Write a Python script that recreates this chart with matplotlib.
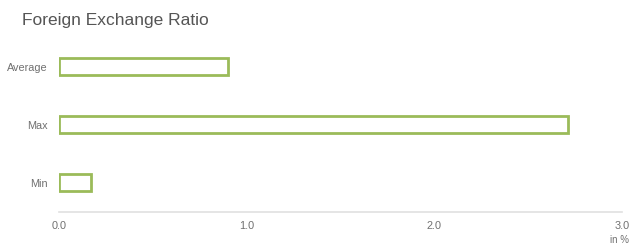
import matplotlib
matplotlib.use("Agg")
import matplotlib.pyplot as plt

categories = ["Average", "Max", "Min"]
values = [0.90, 2.71, 0.17]
xticks = [0.0, 1.0, 2.0, 3.0]
xtick_labels = ["0.0", "1.0", "2.0", "3.0"]

plt.rcParams['font.family'] = ['Liberation Sans', 'DejaVu Sans']
fig = plt.figure(figsize=(6.3, 2.45), dpi=100)
ax = fig.add_axes([59/630, 1-211.5/245, (622-59)/630, (211.5-37.5)/245])

ax.barh(range(len(categories)), values, height=0.29, facecolor="white",
        edgecolor="#9bbb59", linewidth=2.0)
ax.set_ylim(2.5, -0.5)
ax.set_xlim(0, 3.0)
ax.set_yticks(range(len(categories)))
ax.set_yticklabels(categories)
ax.set_xticks(xticks)
ax.set_xticklabels(xtick_labels)
ax.tick_params(axis='both', length=0, labelsize=7.8, labelcolor="#707070")
ax.tick_params(axis='x', pad=7)
ax.tick_params(axis='y', pad=8)
for s in ["top", "right", "left"]:
    ax.spines[s].set_visible(False)
ax.spines["bottom"].set_color("#e0e0e0")
ax.spines["bottom"].set_linewidth(1.2)

fig.text(22/630, 1-20.5/245, "Foreign Exchange Ratio", fontsize=12.5, color="#555555",
         va="center", ha="left")
fig.text(629/630, 1-240/245, "in %", fontsize=7, color="#707070", va="center", ha="right")

fig.savefig("out.png", dpi=100)
